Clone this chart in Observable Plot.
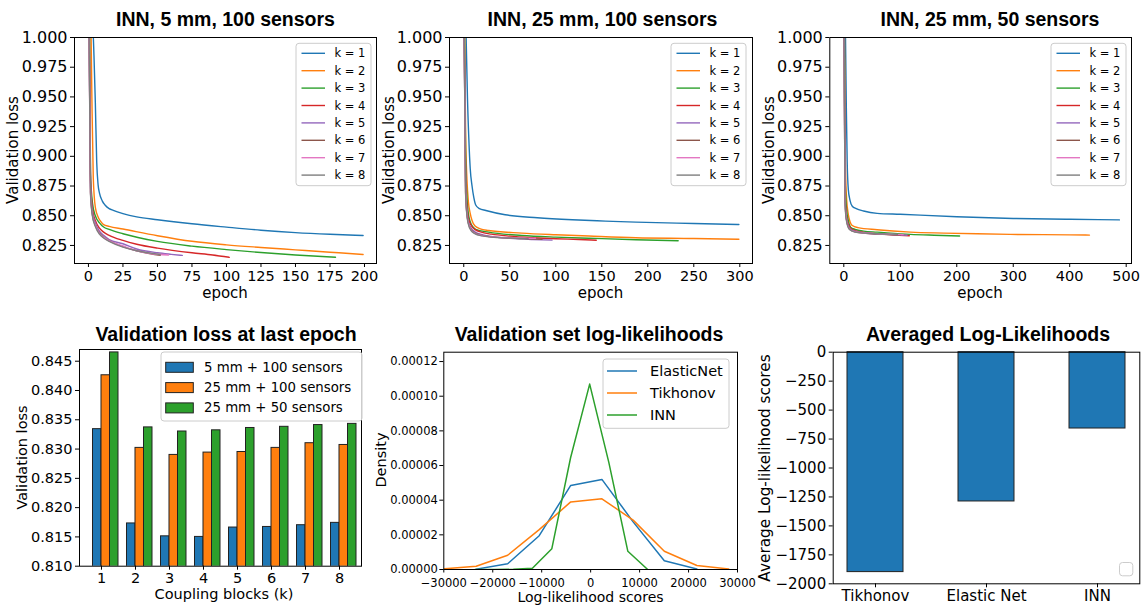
<!DOCTYPE html>
<html><head><meta charset="utf-8">
<script src="https://cdn.jsdelivr.net/npm/d3@7"></script>
<script src="https://cdn.jsdelivr.net/npm/@observablehq/plot@0.6"></script>
<style>
body{margin:0;background:#fff;}
#chart{position:relative;width:1144px;height:606px;background:#fff;overflow:hidden;}
#chart svg{position:absolute;}
</style></head><body><div id="chart"></div>
<script>
// ---------------- DATA ----------------
const kLabels = ["k = 1","k = 2","k = 3","k = 4","k = 5","k = 6","k = 7","k = 8"];
const kColors = ["#1f77b4","#ff7f0e","#2ca02c","#d62728","#9467bd","#8c564b","#e377c2","#7f7f7f"];

// [epoch, validation loss] per k, INN 5 mm, 100 sensors
const run5mm100 = [
 [[0,1.25],[3,1.02],[4,0.985],[5,0.945],[6,0.895],[7,0.876],[8,0.869],[10,0.8625],[12,0.859],[15,0.856],[18,0.8545],[25,0.8518],[35,0.849],[50,0.8466],[75,0.8432],[100,0.8404],[125,0.8378],[150,0.8358],[175,0.8344],[199,0.8334]],
 [[0,1.2],[1.5,1.04],[2.5,0.95],[3.5,0.882],[5,0.857],[7,0.849],[9,0.845],[11,0.8425],[15,0.841],[25,0.8388],[50,0.8332],[75,0.8285],[100,0.8255],[125,0.8233],[150,0.8213],[175,0.8193],[199,0.8174]],
 [[0,1.15],[0.8,1.01],[1.5,0.885],[3,0.86],[5,0.85],[8,0.844],[11,0.8405],[15,0.8385],[25,0.8348],[50,0.8284],[75,0.8244],[100,0.8215],[125,0.819],[150,0.817],[179,0.8151]],
 [[0,1.12],[0.7,1.0],[1.5,0.88],[3,0.855],[5,0.846],[8,0.8395],[11,0.8362],[15,0.8335],[25,0.8292],[35,0.826],[50,0.8227],[75,0.8188],[90,0.817],[102,0.815]],
 [[0,1.1],[0.6,1.0],[1.5,0.875],[3,0.852],[5,0.844],[8,0.837],[11,0.8335],[15,0.830],[25,0.8264],[35,0.822],[50,0.8188],[60,0.8175],[68,0.8166]],
 [[0,1.1],[0.6,1.0],[1.5,0.87],[3,0.85],[5,0.842],[8,0.8355],[11,0.832],[15,0.829],[25,0.824],[35,0.8205],[45,0.818],[52,0.8167]],
 [[0,1.1],[0.5,1.0],[1.5,0.87],[3,0.85],[5,0.842],[8,0.835],[11,0.8318],[15,0.8288],[25,0.8245],[35,0.8205],[45,0.8182],[58,0.817]],
 [[0,1.1],[0.5,1.0],[1.5,0.868],[3,0.849],[5,0.841],[8,0.8345],[11,0.8312],[15,0.8285],[25,0.8236],[35,0.8205],[45,0.8185],[52,0.8174]]
];
// INN 25 mm, 100 sensors
const run25mm100 = [
 [[0,1.3],[2,1.03],[3,0.985],[4,0.95],[5.5,0.915],[7,0.89],[9,0.875],[11,0.865],[13,0.859],[17,0.856],[24,0.8544],[45,0.8508],[80,0.8483],[118,0.8466],[154,0.8455],[187,0.8446],[250,0.8435],[299,0.8426]],
 [[0,1.2],[1,1.0],[2,0.92],[3.5,0.88],[5,0.862],[7,0.852],[9,0.846],[12,0.8415],[18,0.839],[27,0.8376],[63,0.8354],[100,0.834],[136,0.8329],[187,0.8315],[250,0.8309],[299,0.8302]],
 [[0,1.15],[0.8,1.0],[2,0.9],[3.5,0.865],[5,0.852],[7,0.845],[10,0.8405],[13,0.8385],[27,0.8362],[63,0.8334],[100,0.832],[136,0.8311],[187,0.8298],[233,0.829]],
 [[0,1.12],[0.6,1.0],[2,0.88],[3.5,0.857],[5,0.848],[8,0.842],[12,0.8385],[20,0.836],[30,0.8345],[50,0.8328],[75,0.8315],[100,0.8306],[125,0.83],[144,0.8294]],
 [[0,1.1],[0.5,1.0],[2,0.875],[3.5,0.853],[5,0.845],[8,0.8395],[12,0.8365],[20,0.834],[30,0.8325],[50,0.831],[75,0.83],[96,0.8295]],
 [[0,1.1],[0.5,1.0],[2,0.87],[3.5,0.851],[5,0.844],[8,0.8385],[12,0.8355],[20,0.8335],[30,0.8322],[50,0.8312],[70,0.8306],[85,0.8302]],
 [[0,1.1],[0.5,1.0],[2,0.87],[3.5,0.851],[5,0.844],[8,0.838],[12,0.8352],[20,0.8333],[30,0.8322],[50,0.8315],[78,0.831]],
 [[0,1.1],[0.5,1.0],[2,0.868],[3.5,0.85],[5,0.843],[8,0.8375],[12,0.835],[20,0.833],[30,0.832],[50,0.8312],[70,0.8307]]
];
// INN 25 mm, 50 sensors
const run25mm50 = [
 [[0,1.3],[2,1.05],[3,1.0],[4.5,0.94],[6,0.895],[8,0.872],[11,0.863],[15,0.858],[22,0.856],[35,0.854],[59,0.852],[100,0.8512],[200,0.8492],[300,0.8477],[400,0.847],[488,0.8465]],
 [[0,1.2],[1,1.02],[2,0.94],[3,0.89],[5,0.864],[8,0.851],[11,0.845],[15,0.8418],[25,0.84],[59,0.8382],[118,0.8362],[177,0.8354],[236,0.8348],[295,0.8343],[400,0.8339],[435,0.8337]],
 [[0,1.15],[1,0.99],[2,0.9],[3,0.87],[5,0.855],[8,0.846],[12,0.8404],[20,0.8385],[35,0.837],[59,0.8362],[118,0.8343],[160,0.8336],[205,0.833]],
 [[0,1.12],[0.8,1.0],[2,0.88],[3,0.86],[5,0.849],[8,0.843],[12,0.8395],[20,0.8375],[35,0.836],[59,0.8348],[90,0.8338],[116,0.8332]],
 [[0,1.1],[0.7,1.0],[2,0.875],[3,0.857],[5,0.847],[8,0.8415],[12,0.8385],[20,0.837],[35,0.8357],[59,0.8347],[90,0.834],[112,0.8336]],
 [[0,1.1],[0.7,1.0],[2,0.87],[3,0.855],[5,0.846],[8,0.8408],[12,0.838],[20,0.8365],[35,0.8355],[59,0.8346],[80,0.8341],[100,0.8338]],
 [[0,1.1],[0.6,1.0],[2,0.87],[3,0.855],[5,0.846],[8,0.8405],[12,0.838],[20,0.8365],[35,0.8355],[59,0.8348],[85,0.8344],[105,0.8341]],
 [[0,1.1],[0.6,1.0],[2,0.868],[3,0.853],[5,0.845],[8,0.84],[12,0.8378],[20,0.8363],[35,0.8354],[59,0.8348],[80,0.8345],[95,0.8343]]
];

// Validation loss at last epoch
const couplingBlocks = [1,2,3,4,5,6,7,8];
const configLabels = ["5 mm + 100 sensors","25 mm + 100 sensors","25 mm + 50 sensors"];
const configColors = ["#1f77b4","#ff7f0e","#2ca02c"];
const lastLoss5mm100  = [0.8334,0.8173,0.8151,0.8150,0.8166,0.8167,0.8170,0.8174];
const lastLoss25mm100 = [0.8426,0.8302,0.8290,0.8294,0.8295,0.8302,0.8310,0.8307];
const lastLoss25mm50  = [0.8465,0.8337,0.8330,0.8332,0.8336,0.8338,0.8341,0.8343];

// Validation set log-likelihood densities [score, density]
const densityLabels = ["ElasticNet","Tikhonov","INN"];
const densityColors = ["#1f77b4","#ff7f0e","#2ca02c"];
const llElasticNet = [[-23400,0.0000002],[-16950,0.0000033],[-10510,0.0000195],[-4070,0.0000485],[2300,0.000052],[8680,0.0000275],[15050,0.000005],[21700,0.0000003]];
const llTikhonov = [[-29830,0.0000004],[-23390,0.0000019],[-16950,0.0000082],[-10510,0.000023],[-4070,0.000039],[2300,0.0000408],[8680,0.0000285],[15050,0.0000105],[21700,0.0000023],[28200,0.0000003]];
const llINN = [[-23600,0],[-19700,0],[-15800,0.0000001],[-11900,0.0000007],[-7930,0.000012],[-4100,0.0000645],[-200,0.000107],[3700,0.000062],[7600,0.0000105],[11650,0]];

// Averaged log-likelihoods
const avgMethods = ["Tikhonov","Elastic Net","INN"];
const avgLogLik = [-1899,-1289,-659];

// ---------------- DRAWING ----------------
const chart = document.getElementById("chart");
const baseStyle = {fontFamily: "'DejaVu Sans', sans-serif", background: "transparent", color: "#000", overflow: "visible"};
function place(svg, left, top) { svg.style.left = left + "px"; svg.style.top = top + "px"; chart.appendChild(svg); }

function linePanel(runs, box, xDomain, xTicks) {
  const data = runs.flatMap((pts, i) => pts.map(([epoch, loss]) => ({k: i + 1, epoch, loss})));
  const svg = Plot.plot({
    width: box.w, height: box.h,
    marginLeft: box.ml, marginRight: box.mr, marginTop: box.mt, marginBottom: box.mb,
    style: baseStyle,
    x: {domain: xDomain},
    y: {domain: [0.8098, 1.0]},
    color: {type: "ordinal", domain: couplingBlocks, range: kColors},
    marks: [
      Plot.line(data, {x: "epoch", y: "loss", z: "k", stroke: "k", strokeWidth: 1.4, curve: "monotone-x", clip: true}),
      Plot.frame({stroke: "#000"}),
      Plot.axisX({ticks: xTicks, tickFormat: "d", tickSize: 4, tickPadding: 3, fontSize: 14.5, label: null}),
      Plot.axisY({ticks: d3.range(0.825, 1.0001, 0.025), tickFormat: ".3f", tickSize: 4, tickPadding: 3, fontSize: 16, label: null})
    ]
  });
  place(svg, box.left, box.top);
}

linePanel(run5mm100,  {left: 0,   top: 0, w: 380, h: 305, ml: 74, mr: 4,  mt: 37, mb: 42}, [-10.1, 208.7], d3.range(0, 201, 25));
linePanel(run25mm100, {left: 380, top: 0, w: 380, h: 305, ml: 69, mr: 8,  mt: 37, mb: 42}, [-15.5, 313.8], d3.range(0, 301, 50));
linePanel(run25mm50,  {left: 760, top: 0, w: 384, h: 305, ml: 69.3, mr: 13, mt: 37, mb: 42}, [-24.8, 509.4], d3.range(0, 501, 100));

// Bar chart: last epoch loss
const lastLossSeries = [lastLoss5mm100, lastLoss25mm100, lastLoss25mm50];
const barData = lastLossSeries.flatMap((vals, c) => vals.map((v, i) => ({k: couplingBlocks[i], cfg: c, value: v})));
const slotWidth = 0.25;
place(Plot.plot({
  width: 380, height: 301, marginLeft: 79, marginRight: 19, marginTop: 44, marginBottom: 40.3,
  style: baseStyle,
  x: {domain: [0.353, 8.647]},
  y: {domain: [0.810, 0.847]},
  marks: [
    Plot.rectY(barData, {x1: d => d.k + (d.cfg - 1) * slotWidth, x2: d => d.k + d.cfg * slotWidth, y1: 0, y2: "value",
      fill: d => configColors[d.cfg], stroke: "#222", strokeWidth: 1, clip: true}),
    Plot.frame({stroke: "#000"}),
    Plot.axisX({ticks: couplingBlocks, tickFormat: "d", tickSize: 4, tickPadding: 3, fontSize: 14.5, label: null}),
    Plot.axisY({ticks: d3.range(0.810, 0.8451, 0.005), tickFormat: ".3f", tickSize: 4, tickPadding: 3, fontSize: 14.5, label: null})
  ]
}), 0, 305);

// Density lines
const densitySeries = [llElasticNet, llTikhonov, llINN];
const densData = densitySeries.flatMap((pts, i) => pts.map(([s, d]) => ({method: densityLabels[i], s, d})));
place(Plot.plot({
  width: 380, height: 301, marginLeft: 63.3, marginRight: 23, marginTop: 46.7, marginBottom: 37,
  style: baseStyle,
  x: {domain: [-30000, 30000]},
  y: {domain: [0, 0.0001254]},
  color: {domain: densityLabels, range: densityColors},
  marks: [
    Plot.line(densData, {x: "s", y: "d", z: "method", stroke: "method", strokeWidth: 1.5, clip: true}),
    Plot.frame({stroke: "#000"}),
    Plot.axisX({ticks: d3.range(-30000, 30001, 10000), tickFormat: "d", tickSize: 3.5, tickPadding: 5.5, fontSize: 11.5, label: null}),
    Plot.axisY({ticks: d3.range(0, 0.000121, 0.00002), tickFormat: ".5f", tickSize: 4, tickPadding: 2, fontSize: 11.5, label: null})
  ]
}), 380, 305);

// Averaged log-likelihood bars
const avgData = avgMethods.map((m, i) => ({method: m, value: avgLogLik[i]}));
place(Plot.plot({
  width: 384, height: 301, marginLeft: 72.7, marginRight: 4.7, marginTop: 46.7, marginBottom: 22.7,
  style: baseStyle,
  x: {domain: avgMethods, paddingInner: 0.5, paddingOuter: 0.126},
  y: {domain: [-2000, 0]},
  marks: [
    Plot.barY(avgData, {x: "method", y: "value", fill: "#1f77b4", stroke: "#222", strokeWidth: 1}),
    Plot.frame({stroke: "#000"}),
    Plot.axisX({tickSize: 4, tickPadding: 3, fontSize: 15, label: null}),
    Plot.axisY({ticks: d3.range(-2000, 1, 250), tickFormat: "d", tickSize: 4, tickPadding: 3, fontSize: 15, label: null})
  ]
}), 760, 305);

// ---------------- TEXT OVERLAY (titles, axis labels, legends) ----------------
const ov = d3.select(chart).append("svg").attr("width", 1144).attr("height", 606)
  .style("left", "0px").style("top", "0px").style("pointer-events", "none")
  .attr("font-family", "'DejaVu Sans', sans-serif");

const titles = [
  ["INN, 5 mm, 100 sensors", 225.5, 26],
  ["INN, 25 mm, 100 sensors", 602.5, 26],
  ["INN, 25 mm, 50 sensors", 990, 26],
  ["Validation loss at last epoch", 226, 341],
  ["Validation set log-likelihoods", 589, 341],
  ["Averaged Log-Likelihoods", 988, 341]
];
titles.forEach(([t, x, y]) => ov.append("text").attr("x", x).attr("y", y).attr("text-anchor", "middle")
  .attr("font-family", "'Liberation Sans', Arial, sans-serif").attr("font-weight", "bold").attr("font-size", 19.5).text(t));

function ylabel(t, x, y, fs) {
  ov.append("text").attr("transform", `translate(${x},${y}) rotate(-90)`).attr("text-anchor", "middle")
    .attr("dominant-baseline", "central").attr("font-size", fs).text(t);
}
function xlabel(t, x, y, fs) {
  ov.append("text").attr("x", x).attr("y", y).attr("text-anchor", "middle").attr("font-size", fs).text(t);
}
ylabel("Validation loss", 13, 150, 15);
ylabel("Validation loss", 388.5, 150, 15);
ylabel("Validation loss", 768.5, 150, 15);
xlabel("epoch", 225, 298, 15);
xlabel("epoch", 600.5, 298, 15);
xlabel("epoch", 980, 298, 15);
ylabel("Validation loss", 21.5, 457.5, 14.5);
xlabel("Coupling blocks (k)", 224, 599, 14.5);
ylabel("Density", 381, 460, 14.5);
xlabel("Log-likelihood scores", 590.5, 602, 14);
ylabel("Average Log-likelihood scores", 765, 468, 15.3);

function legendBox(x, y, w, h) {
  ov.append("rect").attr("x", x).attr("y", y).attr("width", w).attr("height", h).attr("rx", 3)
    .attr("fill", "#fff").attr("fill-opacity", 0.8).attr("stroke", "#cccccc").attr("stroke-width", 1);
}
// k legends in the three epoch panels
[[296, 43.3], [671, 43.3], [1051, 43.3]].forEach(([x, y]) => {
  legendBox(x, y, 75, 142.4);
  kLabels.forEach((lab, i) => {
    const cy = y + 10 + i * 17.4;
    ov.append("line").attr("x1", x + 5.5).attr("x2", x + 29).attr("y1", cy).attr("y2", cy)
      .attr("stroke", kColors[i]).attr("stroke-width", 1.4);
    ov.append("text").attr("x", x + 38.5).attr("y", cy).attr("dominant-baseline", "central")
      .attr("font-size", 11.5).text(lab);
  });
});
// config legend (bar chart)
legendBox(161, 352, 201, 69);
configLabels.forEach((lab, i) => {
  const cy = 367.3 + i * 20.3;
  ov.append("rect").attr("x", 165.7).attr("y", cy - 5).attr("width", 27.6).attr("height", 10)
    .attr("fill", configColors[i]).attr("stroke", "#222").attr("stroke-width", 1);
  ov.append("text").attr("x", 204).attr("y", cy).attr("dominant-baseline", "central").attr("font-size", 13.3).text(lab);
});
// density legend
legendBox(603, 359, 126, 69.3);
densityLabels.forEach((lab, i) => {
  const cy = 371 + i * 22;
  ov.append("line").attr("x1", 607).attr("x2", 637).attr("y1", cy).attr("y2", cy)
    .attr("stroke", densityColors[i]).attr("stroke-width", 1.5);
  ov.append("text").attr("x", 650).attr("y", cy).attr("dominant-baseline", "central").attr("font-size", 14.5).text(lab);
});
// empty legend box (averaged panel)
legendBox(1119.5, 562.5, 13.3, 13.3);
</script></body></html>
